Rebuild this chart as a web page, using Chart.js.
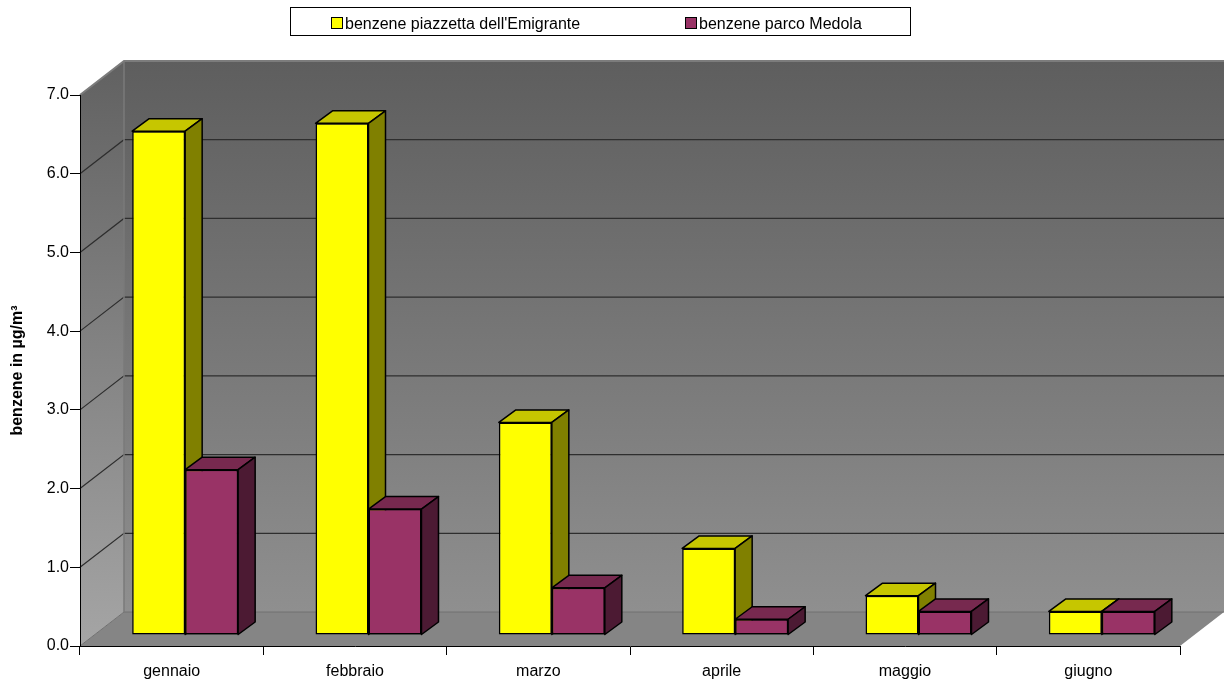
<!DOCTYPE html>
<html>
<head>
<meta charset="utf-8">
<title>benzene</title>
<script src="https://cdn.jsdelivr.net/npm/chart.js@4.4.0/dist/chart.umd.min.js"></script>
<style>
    html, body { margin: 0; padding: 0; background: #fff; }
</style>
</head>
<body>
<canvas id="benzeneChart" width="1224" height="683"></canvas>
<script>
// data
const months = ['gennaio', 'febbraio', 'marzo', 'aprile', 'maggio', 'giugno'];
const piazzetta = [6.4, 6.5, 2.7, 1.1, 0.5, 0.3];
const medola = [2.1, 1.6, 0.6, 0.2, 0.3, 0.3];
const yTicks = [0, 1, 2, 3, 4, 5, 6, 7];
const seriesLabels = ["benzene piazzetta dell'Emigrante", 'benzene parco Medola'];

const FONT = '"Liberation Sans", Arial, sans-serif';

// 3d look: wall depth, bar position in depth, bar depth
const WALL_DX = 44, WALL_DY = 34;
const BAR_SHIFT_X = 13.5, BAR_SHIFT_Y = 11;
const BAR_DX = 17, BAR_DY = 12.5;
const topColors = ['#c6c600', '#77294f'];
const sideColors = ['#808000', '#4c1a33'];

function poly(ctx, pts, fill, stroke) {
    ctx.beginPath();
    ctx.moveTo(pts[0][0], pts[0][1]);
    pts.slice(1).forEach(p => ctx.lineTo(p[0], p[1]));
    ctx.closePath();
    if (fill) { ctx.fillStyle = fill; ctx.fill(); }
    if (stroke) { ctx.strokeStyle = stroke; ctx.stroke(); }
}

const walls3d = {
    id: 'walls3d',
    beforeDraw(chart) {
        const { ctx, chartArea: a, scales: { y } } = chart;
        const backRight = chart.width;
        ctx.save();

        // left side wall
        let g = ctx.createLinearGradient(0, a.top - WALL_DY, 0, a.bottom);
        g.addColorStop(0, '#616161');
        g.addColorStop(1, '#a5a5a5');
        poly(ctx, [[a.left, a.top], [a.left + WALL_DX, a.top - WALL_DY],
                   [a.left + WALL_DX, a.bottom - WALL_DY], [a.left, a.bottom]], g);

        // back wall
        g = ctx.createLinearGradient(0, a.top - WALL_DY, 0, a.bottom - WALL_DY);
        g.addColorStop(0, '#5e5e5e');
        g.addColorStop(1, '#8f8f8f');
        ctx.fillStyle = g;
        ctx.fillRect(a.left + WALL_DX, a.top - WALL_DY, backRight - a.left - WALL_DX, a.bottom - a.top);

        // floor
        poly(ctx, [[a.left, a.bottom], [a.left + WALL_DX, a.bottom - WALL_DY],
                   [a.right + WALL_DX, a.bottom - WALL_DY], [a.right, a.bottom]], '#858585');

        // gridlines on the walls
        const last = yTicks[yTicks.length - 1];
        yTicks.forEach(v => {
            const py = y.getPixelForValue(v);
            ctx.beginPath();
            ctx.moveTo(a.left, py);
            ctx.lineTo(a.left + WALL_DX, py - WALL_DY);
            ctx.lineTo(backRight, py - WALL_DY);
            if (v === 0) { ctx.strokeStyle = '#707070'; ctx.lineWidth = 1; }
            else if (v === last) { ctx.strokeStyle = '#7c7c7c'; ctx.lineWidth = 2; }
            else { ctx.strokeStyle = '#2e2e2e'; ctx.lineWidth = 1.2; }
            ctx.stroke();
        });

        // corner between side and back wall
        ctx.beginPath();
        ctx.moveTo(a.left + WALL_DX, a.top - WALL_DY);
        ctx.lineTo(a.left + WALL_DX, a.bottom - WALL_DY);
        ctx.strokeStyle = '#7a7a7a';
        ctx.lineWidth = 1.5;
        ctx.stroke();
        ctx.restore();
    }
};

const bars3d = {
    id: 'bars3d',
    beforeDatasetsDraw(chart) {
        chart.ctx.save();
        chart.ctx.translate(BAR_SHIFT_X, -BAR_SHIFT_Y);
    },
    afterDatasetsDraw(chart) {
        const ctx = chart.ctx;
        const metas = chart.data.datasets.map((ds, i) => chart.getDatasetMeta(i));
        ctx.lineJoin = 'round';
        months.forEach((m, i) => {
            metas.forEach((meta, d) => {
                const bar = meta.data[i];
                // redraw the right bar front so it covers the left bar's side
                if (d > 0) bar.draw(ctx);
                const { x, y, base, width } = bar.getProps(['x', 'y', 'base', 'width'], true);
                const l = x - width / 2, r = x + width / 2;
                ctx.lineWidth = 1.5;
                poly(ctx, [[l, y], [l + BAR_DX, y - BAR_DY], [r + BAR_DX, y - BAR_DY], [r, y]], topColors[d], '#000');
                poly(ctx, [[r, y], [r + BAR_DX, y - BAR_DY], [r + BAR_DX, base - BAR_DY], [r, base]], sideColors[d], '#000');
            });
        });
        ctx.restore();
    }
};

const legendBox = {
    id: 'legendBox',
    afterDraw(chart) {
        const ctx = chart.ctx;
        const starts = [331, 685];
        ctx.save();
        ctx.strokeStyle = '#000';
        ctx.lineWidth = 1;
        ctx.strokeRect(290.5, 7.5, 620, 28);
        ctx.font = '16px ' + FONT;
        ctx.textBaseline = 'alphabetic';
        chart.data.datasets.forEach((ds, i) => {
            ctx.fillStyle = ds.backgroundColor;
            ctx.fillRect(starts[i] + 0.5, 17.5, 11, 11);
            ctx.strokeRect(starts[i] + 0.5, 17.5, 11, 11);
            ctx.fillStyle = '#000';
            ctx.fillText(ds.label, starts[i] + 14, 29);
        });
        ctx.restore();
    }
};

new Chart(document.getElementById('benzeneChart'), {
    type: 'bar',
    data: {
        labels: months,
        datasets: [{
            label: seriesLabels[0],
            data: piazzetta,
            backgroundColor: '#ffff00'
        }, {
            label: seriesLabels[1],
            data: medola,
            backgroundColor: '#993366'
        }]
    },
    options: {
        responsive: false,
        animation: false,
        events: [],
        layout: { padding: { top: 95, right: 44, left: 0, bottom: 0 } },
        datasets: {
            bar: {
                categoryPercentage: 0.578,
                barPercentage: 1,
                borderColor: '#000',
                borderWidth: 1.5,
                borderSkipped: false,
                clip: false
            }
        },
        plugins: {
            legend: { display: false },
            tooltip: { enabled: false }
        },
        scales: {
            x: {
                offset: true,
                grid: { offset: true, drawOnChartArea: false, tickLength: 9, color: '#000' },
                border: { color: '#000', width: 1 },
                ticks: { color: '#000', padding: 7, font: { family: FONT, size: 16 } },
                afterFit(scale) { scale.height = 37; }
            },
            y: {
                min: 0,
                max: 7,
                afterBuildTicks(scale) { scale.ticks = yTicks.map(v => ({ value: v })); },
                grid: { drawOnChartArea: false, tickLength: 10, color: '#000' },
                border: { color: '#000', width: 1 },
                ticks: {
                    color: '#000',
                    padding: 1,
                    font: { family: FONT, size: 16 },
                    callback: v => v.toFixed(1)
                },
                title: {
                    display: true,
                    text: 'benzene in µg/m³',
                    color: '#000',
                    padding: { top: 8, bottom: 0 },
                    font: { family: FONT, size: 16, weight: 'bold' }
                },
                afterFit(scale) { scale.width = 80; }
            }
        }
    },
    plugins: [walls3d, bars3d, legendBox]
});
</script>
</body>
</html>
